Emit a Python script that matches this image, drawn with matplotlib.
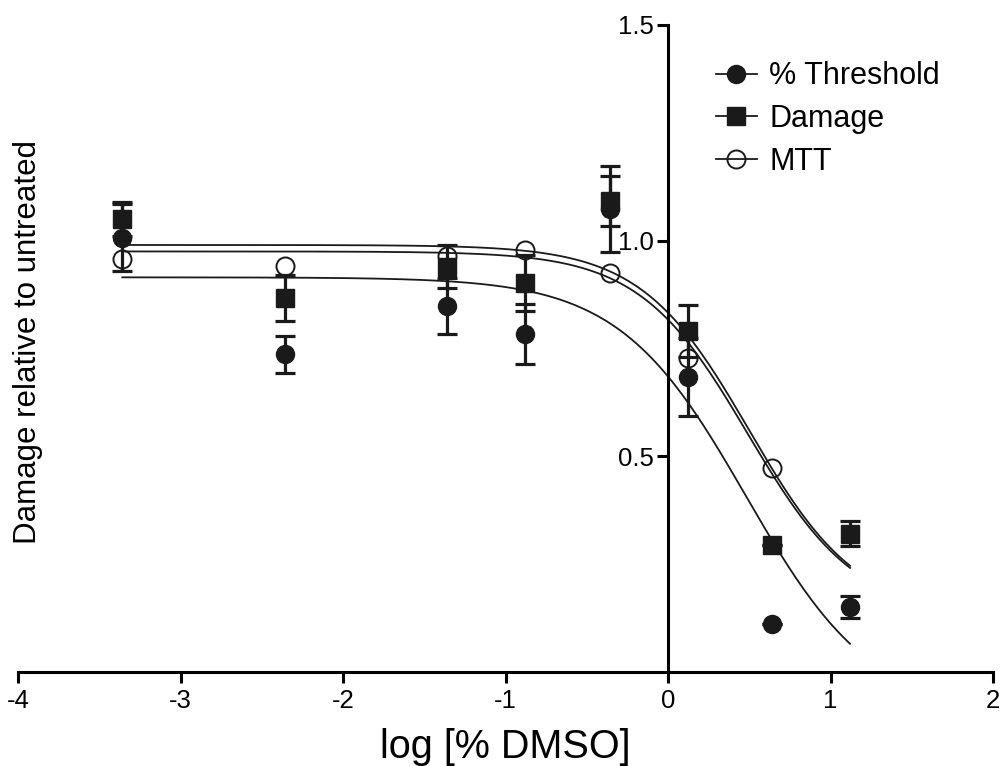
import numpy as np
import matplotlib

matplotlib.use("Agg")
import matplotlib.pyplot as plt
from matplotlib.lines import Line2D

plt.rcParams["font.family"] = ["Liberation Sans", "DejaVu Sans"]

# log [% DMSO] doses
log_dmso = [-3.36, -2.36, -1.36, -0.88, -0.36, 0.12, 0.64, 1.12]

threshold = [1.007, 0.737, 0.849, 0.784, 1.074, 0.684, 0.112, 0.151]
threshold_err = [0.077, 0.043, 0.065, 0.070, 0.100, 0.090, 0.0, 0.025]

damage = [1.050, 0.867, 0.940, 0.902, 1.093, 0.791, 0.295, 0.321]
damage_err = [0.040, 0.054, 0.050, 0.065, 0.058, 0.060, 0.0, 0.030]

mtt_x = [-3.36, -2.36, -1.36, -0.88, -0.36, 0.12, 0.64]
mtt = [0.958, 0.942, 0.965, 0.979, 0.926, 0.728, 0.472]

# sigmoidal dose-response fits: (top, bottom, logEC50, hill)
fit_threshold = (0.915, -0.10, 0.48, 1.11)
fit_damage = (0.990, 0.13, 0.50, 1.30)
fit_mtt = (0.975, 0.13, 0.49, 1.30)


def dose_response(x, top, bottom, logec50, hill):
    return bottom + (top - bottom) / (1 + 10 ** ((x - logec50) * hill))


fig = plt.figure(figsize=(10.01, 7.66), dpi=100)
ax = fig.add_axes([0.0183, 0.1227, 0.9737, 0.8447])

xs = np.linspace(min(log_dmso), max(log_dmso), 300)
for fit in (fit_threshold, fit_damage, fit_mtt):
    ax.plot(xs, dose_response(xs, *fit), color="#1a1a1a", lw=1.3, zorder=2)

ekw = dict(fmt="none", ecolor="#1a1a1a", elinewidth=2.3, capsize=7.5, capthick=2.3, zorder=3)
ax.errorbar(log_dmso, threshold, yerr=threshold_err, **ekw)
ax.errorbar(log_dmso, damage, yerr=damage_err, **ekw)

ax.plot(log_dmso, threshold, "o", ms=13, color="#1a1a1a", zorder=4)
ax.plot(log_dmso, damage, "s", ms=12.5, color="#1a1a1a", zorder=4)
ax.plot(mtt_x, mtt, "o", ms=13, mfc="none", mec="#1a1a1a", mew=1.4, zorder=5)

ax.set_xlim(-4, 2)
ax.set_ylim(0, 1.5)
ax.spines["left"].set_position(("data", 0))
ax.spines["left"].set_bounds(0, 1.5)
ax.spines["top"].set_visible(False)
ax.spines["right"].set_visible(False)
for s in ("left", "bottom"):
    ax.spines[s].set_linewidth(2.2)

ax.set_xticks([-4, -3, -2, -1, 0, 1, 2])
ax.set_xticklabels(["-4", "-3", "-2", "-1", "0", "1", "2"])
ax.set_yticks([0.5, 1.0, 1.5])
ax.set_yticklabels(["0.5", "1.0", "1.5"])
ax.tick_params(axis="both", labelsize=18.5, width=2.2, length=8, direction="out")
ax.tick_params(axis="y", pad=2)
ax.tick_params(axis="x", pad=4)

ax.set_xlabel("log [% DMSO]", fontsize=28.5, labelpad=11)
fig.text(0.028, 0.553, "Damage relative to untreated", rotation=90,
         fontsize=22.5, ha="center", va="center")

handles = [
    Line2D([], [], color="#1a1a1a", marker="o", ms=13, lw=1.3),
    Line2D([], [], color="#1a1a1a", marker="s", ms=12.5, lw=1.3),
    Line2D([], [], color="#1a1a1a", marker="o", ms=13, mfc="none", mew=1.4, lw=1.3),
]
fig.legend(handles, ["% Threshold", "Damage", "MTT"], loc="upper left",
           bbox_to_anchor=(0.715, 0.92), frameon=False, fontsize=22,
           handlelength=1.35, handletextpad=0.4, labelspacing=0.42,
           borderpad=0, borderaxespad=0)

fig.savefig("out.png", dpi=100)
